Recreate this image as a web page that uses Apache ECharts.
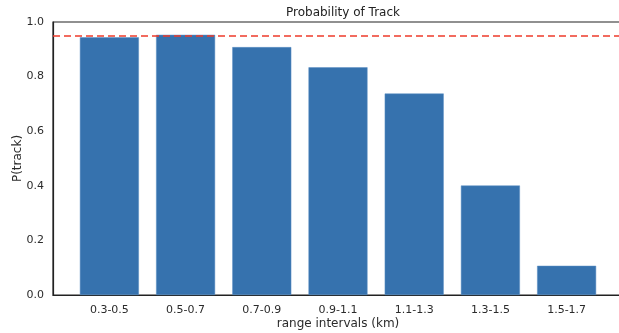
<!DOCTYPE html>
<html>
<head>
<meta charset="utf-8">
<script src="https://cdn.jsdelivr.net/npm/echarts@6/dist/echarts.min.js"></script>
<style>
  html, body { margin: 0; padding: 0; background: #fff; }
  #main { width: 619px; height: 333px; }
</style>
</head>
<body>
<div id="main"></div>
<script>
// categories and values
var ranges = ['0.3-0.5', '0.5-0.7', '0.7-0.9', '0.9-1.1', '1.1-1.3', '1.3-1.5', '1.5-1.7'];
var pTrack = [0.944, 0.953, 0.908, 0.834, 0.738, 0.401, 0.107];
var threshold = 0.95;
var yTicks = [0, 0.2, 0.4, 0.6, 0.8, 1.0];

var barData = [];
for (var i = 0; i < pTrack.length; i++) {
  barData.push([i, pTrack[i]]);
}
var xPos = [];
for (var k = 0; k < ranges.length; k++) xPos.push(k);

var chart = echarts.init(document.getElementById('main'));
var txt = '#2b2b2b';
var option = {
  backgroundColor: '#fff',
  animation: false,
  textStyle: { fontFamily: 'DejaVu Sans' },
  title: {
    text: 'Probability of Track',
    left: 338, top: 2,
    textAlign: 'center',
    textStyle: { fontSize: 12, fontWeight: 'normal', color: '#222', fontFamily: 'DejaVu Sans' }
  },
  grid: {
    left: 53, right: -4, top: 22, bottom: 38,
    outerBoundsMode: 'none',
    containLabel: false,
    show: true, borderColor: '#222', borderWidth: 1.2
  },
  xAxis: {
    type: 'value',
    min: -0.74, max: 6.74,
    name: 'range intervals (km)',
    nameLocation: 'middle',
    nameMoveOverlap: false,
    nameGap: 23,
    nameTextStyle: { fontSize: 12, color: txt },
    axisLine: { show: true, onZero: false, lineStyle: { color: '#222', width: 1.2 } },
    axisTick: { show: false },
    splitLine: { show: false },
    axisLabel: {
      customValues: xPos,
      margin: 10,
      fontSize: 11, color: txt,
      formatter: function (v) { return ranges[Math.round(v)]; }
    }
  },
  yAxis: {
    type: 'value',
    min: 0, max: 1, interval: 0.2,
    name: 'P(track)',
    nameLocation: 'middle',
    nameMoveOverlap: false,
    nameGap: 29,
    nameTextStyle: { fontSize: 12, color: txt },
    axisLine: { show: true, onZero: false, lineStyle: { color: '#222', width: 1.2 } },
    axisTick: { show: false },
    splitLine: { show: false },
    axisLabel: {
      customValues: yTicks,
      margin: 9,
      fontSize: 11, color: txt,
      formatter: function (v) { return v.toFixed(1); }
    }
  },
  series: [{
    type: 'bar',
    data: barData,
    barWidth: 59,
    itemStyle: { color: '#3672ae', borderColor: '#5b8fc4', borderWidth: 0.5 },
    markLine: {
      symbol: 'none',
      silent: true,
      label: { show: false },
      lineStyle: { color: '#ee3b2b', type: [7, 4], width: 1.6 },
      data: [{ yAxis: threshold }]
    }
  }]
};
chart.setOption(option);
</script>
</body>
</html>
